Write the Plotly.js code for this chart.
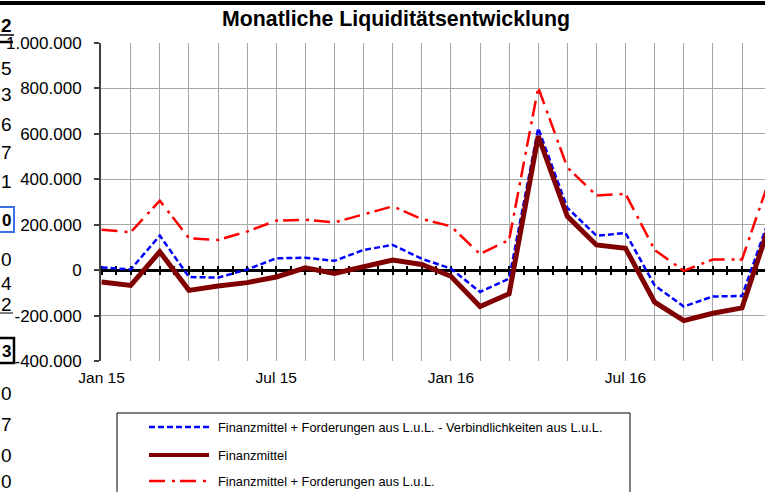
<!DOCTYPE html>
<html>
<head>
<meta charset="utf-8">
<script src="https://cdn.plot.ly/plotly-3.0.1.min.js"></script>
<style>html,body{margin:0;padding:0;background:#fff;overflow:hidden}#chart{width:765px;height:492px}</style>
</head>
<body>
<div id="chart"></div>
<script>
// ---- data ----
const months = ['Jan 15','Feb 15','Mrz 15','Apr 15','Mai 15','Jun 15','Jul 15','Aug 15','Sep 15','Okt 15','Nov 15','Dez 15',
                'Jan 16','Feb 16','Mrz 16','Apr 16','Mai 16','Jun 16','Jul 16','Aug 16','Sep 16','Okt 16','Nov 16','Dez 16'];
const xTickLabels = ['Jan 15','Jul 15','Jan 16','Jul 16'];
const netto = [12000, 3000, 152000, -30000, -33000, 3000, 52000, 55000, 41000, 89000, 111000, 50000,
               7000, -96000, -37000, 625000, 274000, 152000, 163000, -67000, -160000, -116000, -114000, 250000];
const finanzmittel = [-52000, -67000, 81000, -89000, -70000, -55000, -30000, 10000, -15000, 15000, 44000, 25000,
               -27000, -160000, -104000, 590000, 237000, 111000, 96000, -141000, -222000, -190000, -166000, 220000];
const mitFord = [178000, 167000, 306000, 141000, 133000, 170000, 218000, 222000, 210000, 244000, 281000, 225000,
               193000, 71000, 133000, 804000, 452000, 329000, 336000, 89000, -3000, 47000, 47000, 420000];
const yTickVals = [-400000, -200000, 0, 200000, 400000, 600000, 800000, 1000000];
const yTickText = ['-400.000', '-200.000', '0', '200.000', '400.000', '600.000', '800.000', '1.000.000'];
const seriesNames = ['Finanzmittel + Forderungen aus L.u.L. - Verbindlichkeiten aus L.u.L.', 'Finanzmittel', 'Finanzmittel + Forderungen aus L.u.L.'];
const titleText = 'Monatliche Liquiditätsentwicklung';
const sideCells = ['2','5','3','6','7','1','0','0','4','2','3','0','7','0','0'];

// ---- layout helpers ----
const L = 101, T = 43, W = 664, H = 318;
const px2x = p => (p - L) / W;
const py2y = p => (T + H - p) / H;
const idx = months.map((m, i) => i);
const xr = [-0.02, 22.79];
const font = 'Liberation Sans, Arial, sans-serif';

const styles = [
  {color: '#0000ff', width: 2.5, dash: '6px,3px'},
  {color: '#800000', width: 5, dash: 'solid'},
  {color: '#ff0000', width: 2.5, dash: '16px,7px,3px,5px'}
];
const values = [netto, finanzmittel, mitFord];

const traces = [];
[2, 0, 1].forEach(k => {
  traces.push({x: idx, y: values[k], type: 'scatter', mode: 'lines', name: seriesNames[k],
    line: {color: styles[k].color, width: styles[k].width, dash: styles[k].dash}, showlegend: false, hoverinfo: 'skip'});
});
traces.push({x: [], y: [], xaxis: 'x2', yaxis: 'y', showlegend: false, hoverinfo: 'skip', type: 'scatter'});
traces.push({x: [], y: [], xaxis: 'x3', yaxis: 'y', showlegend: false, hoverinfo: 'skip', type: 'scatter'});

const zeroPos = 400000 / 1400000;
const crossAxis = side => ({overlaying: 'x', anchor: 'free', position: zeroPos, side: side, range: xr,
  showline: false, showgrid: false, zeroline: false, ticks: 'outside', ticklen: 4, tickwidth: 2, tickcolor: '#000',
  tickmode: 'linear', tick0: 0, dtick: 0.5, showticklabels: false, layer: 'below traces'});

const shapes = [];
const annotations = [];
shapes.push({type: 'line', xref: 'paper', yref: 'paper', x0: px2x(-5), x1: px2x(770), y0: py2y(3), y1: py2y(3), line: {color: '#000', width: 4}});
shapes.push({type: 'rect', xref: 'paper', yref: 'paper', x0: px2x(117), x1: px2x(630), y0: py2y(413), y1: py2y(520), line: {color: '#000', width: 1}, fillcolor: 'rgba(0,0,0,0)'});
const rowsY = [427, 455, 481];
[0, 1, 2].forEach(k => {
  shapes.push({type: 'line', xref: 'paper', yref: 'paper', x0: px2x(149), x1: px2x(209), y0: py2y(rowsY[k]), y1: py2y(rowsY[k]),
    line: {color: styles[k].color, width: k === 1 ? 4 : 2.5, dash: styles[k].dash}});
  annotations.push({xref: 'paper', yref: 'paper', x: px2x(216), y: py2y(rowsY[k]), xanchor: 'left', yanchor: 'middle',
    text: seriesNames[k], showarrow: false, font: {family: font, size: 12.8, color: '#000'}});
});
const cellY = [26, 68, 95, 124, 152, 181, 220, 259, 283, 304, 351, 393, 424, 455, 481];
sideCells.forEach((t, i) => {
  const bold = (i === 0 || i === 6 || i === 10);
  const boxed = (i === 6 || i === 10);
  annotations.push({xref: 'paper', yref: 'paper', x: px2x(boxed ? 12.5 : 14), y: py2y(cellY[i]), xanchor: 'right', yanchor: 'middle',
    text: bold ? '<b>' + t + '</b>' : t, showarrow: false, font: {family: font, size: boxed ? 17 : 19, color: '#000'}});
});
shapes.push({type: 'line', xref: 'paper', yref: 'paper', x0: px2x(-5), x1: px2x(14), y0: py2y(35), y1: py2y(35), line: {color: '#000', width: 1.5}});
shapes.push({type: 'line', xref: 'paper', yref: 'paper', x0: px2x(-5), x1: px2x(13), y0: py2y(42), y1: py2y(42), line: {color: '#000', width: 2.5}});
shapes.push({type: 'line', xref: 'paper', yref: 'paper', x0: px2x(-5), x1: px2x(13), y0: py2y(313), y1: py2y(313), line: {color: '#000', width: 1}});
shapes.push({type: 'rect', xref: 'paper', yref: 'paper', x0: px2x(-5), x1: px2x(14), y0: py2y(207), y1: py2y(232), line: {color: '#3c6fe6', width: 2}, fillcolor: 'rgba(0,0,0,0)'});
shapes.push({type: 'rect', xref: 'paper', yref: 'paper', x0: px2x(-5), x1: px2x(14), y0: py2y(338), y1: py2y(363), line: {color: '#000', width: 2.5}, fillcolor: 'rgba(0,0,0,0)'});

const layout = {
  width: 765, height: 492,
  margin: {l: L, r: 765 - L - W, t: T, b: 492 - T - H, pad: 0},
  paper_bgcolor: '#fff', plot_bgcolor: '#fff',
  showlegend: false,
  title: {text: titleText, x: 396 / 765, xref: 'container', xanchor: 'center', y: 1 - 19 / 492, yref: 'container', yanchor: 'middle',
    font: {family: font, size: 21.3, weight: 700, color: '#000'}},
  xaxis: {range: xr, tickmode: 'array', tickvals: xTickLabels.map(l => months.indexOf(l)), ticktext: xTickLabels,
    showgrid: true, gridcolor: '#a6a6a6', gridwidth: 1, zeroline: false, showline: false, ticks: '',
    minor: {tickmode: 'linear', tick0: 0, dtick: 1, showgrid: true, gridcolor: '#a6a6a6', gridwidth: 1, ticks: ''},
    tickfont: {family: font, size: 15.5, color: '#000'}, ticklabelstandoff: 5},
  xaxis2: crossAxis('bottom'),
  xaxis3: crossAxis('top'),
  yaxis: {range: [-400000, 1000000], tickmode: 'array', tickvals: yTickVals, ticktext: yTickText,
    showgrid: true, gridcolor: '#a6a6a6', gridwidth: 1, zeroline: true, zerolinecolor: '#000', zerolinewidth: 3,
    showline: true, linecolor: '#404040', linewidth: 2, ticks: 'outside', ticklen: 5, tickwidth: 2, tickcolor: '#404040',
    tickfont: {family: font, size: 17, color: '#000'}, ticklabelstandoff: 9},
  shapes: shapes,
  annotations: annotations
};

Plotly.newPlot('chart', traces, layout, {staticPlot: true, displayModeBar: false});
</script>
</body>
</html>
